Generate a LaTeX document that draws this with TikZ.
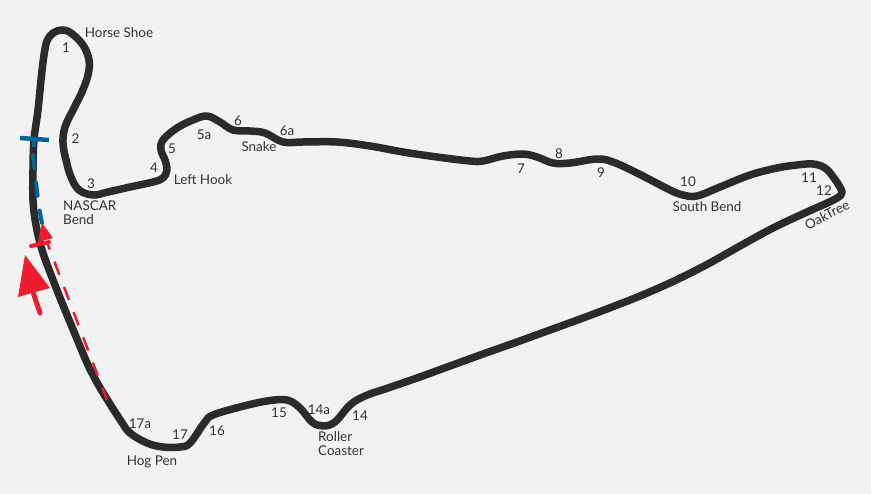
\documentclass[tikz,border=0pt]{standalone}
\usepackage{fontspec}
\setmainfont{Lato}
\usetikzlibrary{arrows.meta}
\definecolor{bgc}{HTML}{F2F2F2}
\definecolor{trackc}{HTML}{2B2B2B}
\definecolor{txtc}{HTML}{333333}
\definecolor{redc}{HTML}{EE1C2E}
\definecolor{bluec}{HTML}{00679E}
\tikzset{
  track/.style={draw=trackc,line width=7.5bp,line join=round},
  lab/.style={text=txtc,inner sep=0pt,font=\fontsize{13.5}{13.5}\selectfont},
  multi/.style={lab,align=left,anchor=north west},
  blueline/.style={draw=bluec,line width=4.5bp},
  bluedash/.style={blueline,line width=4bp,line cap=round,dash pattern=on 13bp off 15bp},
  reddash/.style={draw=redc,line width=2.5bp,dash pattern=on 14bp off 13bp,dash phase=7bp},
  redbar/.style={draw=redc,line width=4bp,line cap=round},
  redhead/.style={fill=redc,draw=none}
}
\begin{document}
\begin{tikzpicture}[x=1bp,y=-1bp]
\path[fill=bgc] (0,0) rectangle (871,494);
\useasboundingbox (0,0) rectangle (871,494);
% track
\draw[track] plot[smooth cycle,tension=0.6] coordinates {
(34,140)(38,110)(41,80)(44,55)(47,41)(53,33)(62,30)(71,33)(83,45)(89,60)(88,75)(82,92)(74,108)(65,127)(63,143)(66,160)(71,177)(79,190)(93,195)
(108,192)(130,187)(153,182)(163,178)(167,170)(165,160)(161,150)(163,140)(177,128)(193,120)(207,116)(220,122)(233,130)(250,131)(265,133)(283,142)
(303,142)(337,142)(370,146)(403,152)(437,157)(470,161)(483,161)(503,156)(523,154)(537,157)(553,163)(570,163)(597,159)(613,162)(637,173)(670,190)(683,195)(697,196)(720,187)(750,175)(777,168)(797,165)(813,164)(825,168)(834,178)(842,192)(837,198)(825,204)
(807,212)(773,228)(740,246)(707,264.5)(673,281.5)(640,296)(612,307)(583,318)(550,330)(517,342)(483,354)(450,366)(417,378)(388,388)(365,396)(350,405)(335,422)(323,426)(312,422)(300,408)(287,400)(267,401)(240,407)(213,415)(205,422)(190,443)(180,447)(163,447)(147,443)(130,433)(121,421)(110,404)(99,386)(88,365)(77,339)(65,310)(53,280)(42,250)(36,225)(33,200)(33,170)};
% start/finish marks
\coordinate (bs) at (33,155); \coordinate (be) at (42,223);
\coordinate (rs) at (107,400); \coordinate (re) at (47.3,243);
\draw[reddash] (re) -- (rs);
\draw[bluedash] (bs) .. controls (36,180) and (38,205) .. (be);
\coordinate (bt) at (34,141); \coordinate (bb) at (34,147);
\draw[blueline] (bt) -- (bb);
\coordinate (bl) at (20,138); \coordinate (br) at (49,140);
\draw[blueline] (bl) -- (br);
\coordinate (t1) at (42,223); \coordinate (t2) at (38,242); \coordinate (t3) at (53,238);
\fill[redhead] (t1) -- (t3) -- (t2) -- cycle;
\coordinate (cl) at (31,246); \coordinate (cr) at (49,242);
\draw[redbar] (cl) -- (cr);
\coordinate (a1) at (25,255); \coordinate (a2) at (18,297); \coordinate (a3) at (50,288); \coordinate (a4) at (40,313); \coordinate (a5) at (33,292);
\draw[redbar,line width=5bp] (a4) -- (a5);
\fill[redhead] (a1) -- (a3) -- (a2) -- cycle;
% labels
\node[lab] (n1) at (66,48) {1};
\node[lab] (hs) at (119,32.5) {Horse Shoe};
\node[lab] (n2) at (75.5,138.5) {2};
\node[lab] (n3) at (91,183.5) {3};
\node[multi] (nb) at (63,201) {NASCAR\\[0pt]Bend};
\node[lab] (n4) at (154,167.5) {4};
\node[lab] (n5) at (172,148.5) {5};
\node[lab] (lh) at (203,179.5) {Left Hook};
\node[lab] (n5a) at (204,134.5) {5a};
\node[lab] (n6) at (238,120.5) {6};
\node[lab] (sn) at (259,146.5) {Snake};
\node[lab] (n6a) at (287,130.5) {6a};
\node[lab] (n7) at (521,168.5) {7};
\node[lab] (n8) at (559,153.5) {8};
\node[lab] (n9) at (601,172.5) {9};
\node[lab] (n10) at (688,181.5) {10};
\node[lab] (sb) at (707,206.5) {South Bend};
\node[lab] (n11) at (809,177.5) {11};
\node[lab] (n12) at (824,190.5) {12};
\node[lab,rotate=27] (ot) at (827,215) {OakTree};
\node[lab] (n14) at (360,415.5) {14};
\node[lab] (n14a) at (319,409.5) {14a};
\node[lab] (n15) at (279,412.5) {15};
\node[lab] (n16) at (217,430.5) {16};
\node[lab] (n17) at (180,434.5) {17};
\node[lab] (n17a) at (140,423.5) {17a};
\node[lab] (hp) at (152,461.5) {Hog Pen};
\node[multi] (rc) at (318,431.5) {Roller\\[0pt]Coaster};
\end{tikzpicture}
\end{document}
